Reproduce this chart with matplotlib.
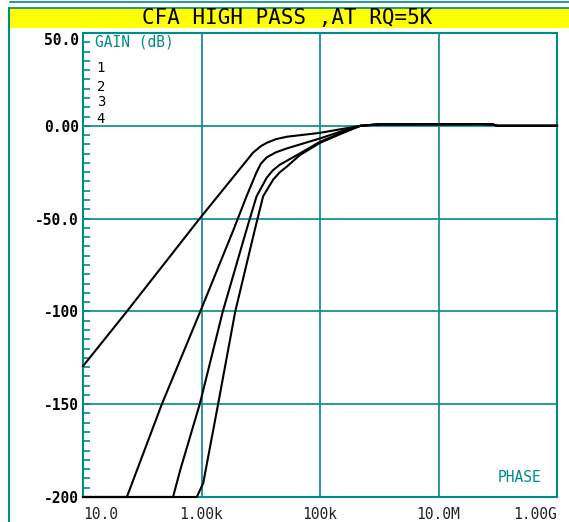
import matplotlib
matplotlib.use("Agg")
import matplotlib.pyplot as plt
from matplotlib.lines import Line2D
from matplotlib.patches import Rectangle

# Gain traces (frequency in Hz, gain in dB)
freq1 = [10, 55, 930, 7400, 10000, 12600, 18000, 27500, 100e3, 219e3, 480e3, 1e6, 50e6, 80e6, 100e6, 1e9]
gain1 = [-129.5, -100, -50, -14.5, -11, -9.2, -7.2, -5.9, -3.8, -1.9, 0, 0.8, 0.9, 0.8, 0, 0]

freq2 = [10, 55, 214, 955, 3470, 5750, 8500, 10000, 12600, 18000, 27500, 100e3, 219e3, 480e3, 1e6, 50e6, 80e6, 100e6, 1e9]
gain2 = [-200, -200, -150, -100, -56, -38, -25, -20.5, -17, -14.3, -12.2, -6.8, -3.2, 0, 0.8, 0.9, 0.8, 0, 0]

freq3 = [10, 331, 437, 933, 2290, 5750, 8500, 12600, 16000, 20900, 45700, 100e3, 219e3, 480e3, 1e6, 50e6, 80e6, 100e6, 1e9]
gain3 = [-200, -200, -185.5, -150, -100, -56, -38, -28, -24, -21, -14.9, -8.6, -4.1, 0, 0.8, 0.9, 0.8, 0, 0]

freq4 = [10, 832, 1070, 1905, 3715, 7940, 10960, 16200, 21000, 27500, 45700, 100e3, 219e3, 480e3, 1e6, 50e6, 80e6, 100e6, 1e9]
gain4 = [-200, -200, -192.5, -150, -100, -56, -38, -29, -25, -22, -15.8, -9.2, -4.5, 0, 0.8, 0.9, 0.8, 0, 0]

traces = [(freq1, gain1), (freq2, gain2), (freq3, gain3), (freq4, gain4)]
trace_names = ["1", "2", "3", "4"]

x_ticks = [10, 1e3, 1e5, 1e7, 1e9]
x_labels = ["10.0", "1.00k", "100k", "10.0M", "1.00G"]
y_ticks = [50, 0, -50, -100, -150, -200]
y_labels = ["50.0", "0.00", "-50.0", "-100", "-150", "-200"]

title = "CFA HIGH PASS ,AT RQ=5K"

teal = "#008b8b"
W, H = 569, 522
plt.rcParams["font.family"] = "DejaVu Sans Mono"

fig = plt.figure(figsize=(W / 100, H / 100), dpi=100)
ax = fig.add_axes([83 / W, 1 - 497 / H, 474 / W, 464 / H])

for f, g in traces:
    ax.plot(f, g, color="black", lw=1.5, solid_joinstyle="round",
            clip_on=False, zorder=4)

ax.set_xscale("log")
ax.set_xlim(10, 1e9)
ax.set_ylim(-200, 50)

ax.set_xticks(x_ticks)
ax.set_xticklabels(x_labels)
ax.xaxis.set_minor_locator(plt.NullLocator())
ax.set_yticks(y_ticks)
ax.set_yticklabels(y_labels, fontweight="bold")
ax.set_yticks(range(-200, 51, 5), minor=True)

ax.tick_params(axis="x", which="major", length=0, pad=7, labelsize=10.5, labelcolor="#222222")
ax.tick_params(axis="y", which="both", direction="in", color=teal, width=1.2)
ax.tick_params(axis="y", which="major", length=5, pad=3, labelsize=10.5)
ax.tick_params(axis="y", which="minor", length=5)

xl = ax.get_xticklabels()
xl[0].set_ha("left")
xl[-1].set_ha("right")
ax.get_yticklabels()[0].set_va("top")

ax.grid(True, which="major", color=teal, lw=1.2)
ax.set_axisbelow(True)
for s in ax.spines.values():
    s.set_color(teal)
    s.set_linewidth(1.5)

ax.text(0.025, 0.981, "GAIN (dB)", transform=ax.transAxes, color=teal,
        fontsize=10.5, ha="left", va="center")
ax.text(0.968, 0.041, "PHASE", transform=ax.transAxes, color=teal,
        fontsize=10.5, ha="right", va="center")
for name, yy in zip(trace_names, [0.925, 0.884, 0.851, 0.815]):
    ax.text(0.029, yy, name, transform=ax.transAxes, color="black",
            fontsize=10, ha="left", va="center")

# title bar and outer frame
fig.patches.append(Rectangle((10 / W, 1 - 28 / H), 559 / W, 20 / H,
                             transform=fig.transFigure, facecolor="#ffff00",
                             edgecolor="none", zorder=0))
fig.add_artist(Line2D([10 / W, 1], [1 - 2 / H, 1 - 2 / H], color=teal, lw=1.2))
fig.add_artist(Line2D([9 / W, 1], [1 - 8 / H, 1 - 8 / H], color=teal, lw=1.2))
fig.add_artist(Line2D([9 / W, 9 / W], [0, 1 - 8 / H], color=teal, lw=1.5))
fig.text(287 / W, 1 - 18 / H, title, ha="center", va="center",
         fontsize=15, color="black")

fig.savefig("out.png", dpi=100)
